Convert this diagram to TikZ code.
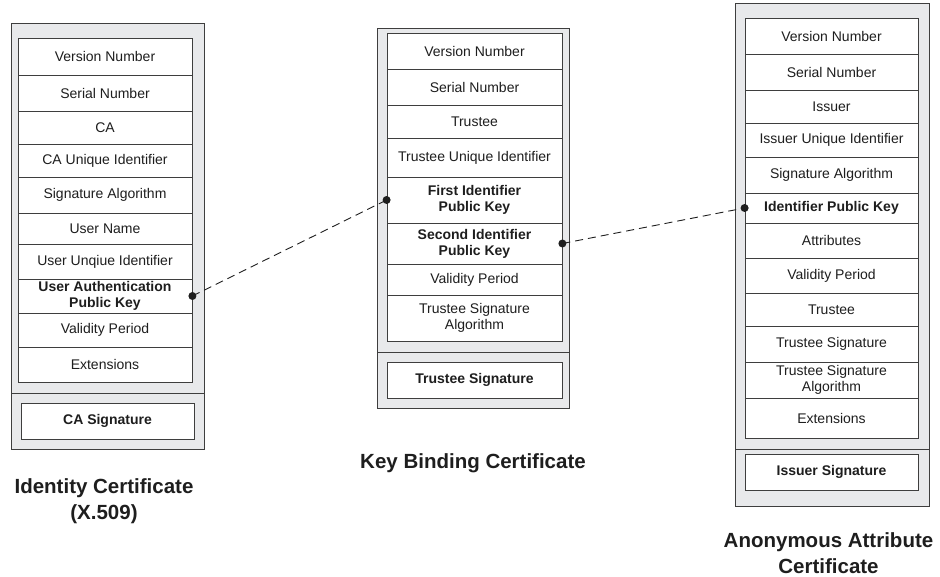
\documentclass[tikz,border=0pt]{standalone}
\usepackage{fontspec}
\setmainfont{Liberation Sans}
\usepackage{xcolor}
\usepackage{tikz}
\usetikzlibrary{arrows.meta}
\definecolor{framegray}{RGB}{232,233,235}
\definecolor{linegray}{RGB}{62,62,62}
\definecolor{textgray}{RGB}{30,30,30}
\tikzstyle{certframe}=[draw=linegray, fill=framegray, line width=0.9pt]
\tikzstyle{divline}=[draw=linegray, line width=0.9pt]
\tikzstyle{field}=[draw=linegray, fill=white, line width=0.8pt, inner sep=0pt, align=center, text=textgray, font=\fontsize{14}{16}\selectfont]
\tikzstyle{keyfield}=[field, font=\fontsize{14}{16}\selectfont\bfseries]
\tikzstyle{certtitle}=[align=center, text=textgray, font=\fontsize{20.5}{25.5}\selectfont\bfseries]
\tikzstyle{link}=[draw=textgray, dash pattern=on 8pt off 5pt, line width=0.9pt]
\tikzstyle{linkdot}=[fill=textgray]

\begin{document}
\begin{tikzpicture}[x=1pt, y=-1pt]
        \useasboundingbox (0,0) rectangle (940,577);
        % identity certificate
        \draw[certframe] (11,23) rectangle (204,449);
        \draw[divline] (11,393) -- (204,393);
        \foreach \n/\yt/\yb/\st/\lbl in {1/38/75/field/Version Number, 2/75/111/field/Serial Number,
            3/111/144/field/CA, 4/144/177/field/CA Unique Identifier, 5/177/213/field/Signature Algorithm,
            6/213/244/field/User Name, 7/244/279/field/User Unqiue Identifier,
            8/279/313/keyfield/{User Authentication\\Public Key},
            9/313/347/field/Validity Period, 10/347/382/field/Extensions} {
             \node[\st, minimum width=174pt, minimum height={(\yb-\yt)*1pt}] (id\n) at (105,{(\yt+\yb)/2}) {\lbl};
        }
        \node[keyfield, minimum width=173pt, minimum height=36pt] (idsig) at (107.5,421) {CA Signature};
        \node[certtitle] (idtitle) at (104,501) {Identity Certificate\\(X.509)};

        % key binding certificate
        \draw[certframe] (377,28) rectangle (569,408);
        \draw[divline] (377,352) -- (569,352);
        \foreach \n/\yt/\yb/\st/\lbl in {1/33/69/field/Version Number, 2/69/105/field/Serial Number,
            3/105/138/field/Trustee, 4/138/177/field/Trustee Unique Identifier,
            5/177/223/keyfield/{First Identifier\\Public Key},
            6/223/264/keyfield/{Second Identifier\\Public Key}, 7/264/295/field/Validity Period,
            8/295/341/field/{Trustee Signature\\Algorithm}} {
             \node[\st, minimum width=175pt, minimum height={(\yb-\yt)*1pt}] (kb\n) at (474.5,{(\yt+\yb)/2}) {\lbl};
        }
        \node[keyfield, minimum width=175pt, minimum height=36pt] (kbsig) at (474.5,380) {Trustee Signature};
        \node[certtitle] (kbtitle) at (473,463.5) {Key Binding Certificate};

        % anonymous attribute certificate
        \draw[certframe] (735,3) rectangle (929,506);
        \draw[divline] (735,449) -- (929,449);
        \foreach \n/\yt/\yb/\st/\lbl in {1/18/54/field/Version Number, 2/54/90/field/Serial Number,
            3/90/123/field/Issuer, 4/123/157/field/Issuer Unique Identifier,
            5/157/193/field/Signature Algorithm, 6/193/223/keyfield/Identifier Public Key,
            7/223/258/field/Attributes, 8/258/293/field/Validity Period, 9/293/326/field/Trustee,
            10/326/362/field/Trustee Signature, 11/362/398/field/{Trustee Signature\\Algorithm},
            12/398/438/field/Extensions} {
             \node[\st, minimum width=173pt, minimum height={(\yb-\yt)*1pt}] (aa\n) at (831.5,{(\yt+\yb)/2}) {\lbl};
        }
        \node[keyfield, minimum width=173pt, minimum height=36pt] (aasig) at (831.5,472) {Issuer Signature};
        \node[certtitle] (aatitle) at (828.5,553) {Anonymous Attribute\\Certificate};

        % key links
        \draw[link] (id8.east) -- (kb5.west);
        \draw[link] (kb6.east) -- (aa6.west);
        \fill[linkdot] (id8.east) circle (4pt) (kb5.west) circle (4pt);
        \fill[linkdot] (kb6.east) circle (4pt) (aa6.west) circle (4pt);
    \end{tikzpicture}
\end{document}
